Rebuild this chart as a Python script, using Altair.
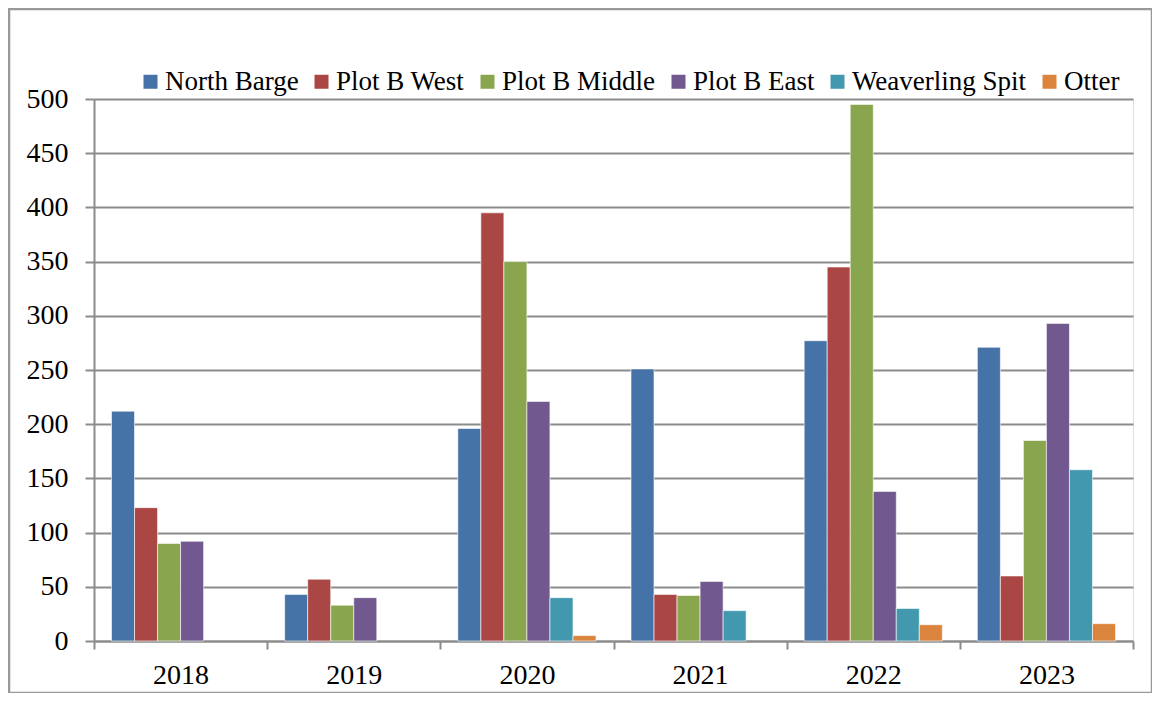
import altair as alt
import pandas as pd

years = ["2018", "2019", "2020", "2021", "2022", "2023"]
series = ["North Barge", "Plot B West", "Plot B Middle", "Plot B East", "Weaverling Spit", "Otter"]
colors = ["#4572A7", "#AA4643", "#89A54E", "#71588F", "#4198AF", "#DB843D"]

north_barge = [212, 43, 196, 251, 277, 271]
plot_b_west = [123, 57, 395, 43, 345, 60]
plot_b_middle = [90, 33, 350, 42, 495, 185]
plot_b_east = [92, 40, 221, 55, 138, 293]
weaverling_spit = [None, None, 40, 28, 30, 158]
otter = [None, None, 5, None, 15, 16]

values = [north_barge, plot_b_west, plot_b_middle, plot_b_east, weaverling_spit, otter]
rows = []
for s, vals in zip(series, values):
    for y, v in zip(years, vals):
        if v is not None:
            rows.append({"Year": y, "Site": s, "Count": v})
df = pd.DataFrame(rows)

W, H = 1039, 542
FONT = "Liberation Serif"
GRAY = "#8c8c8c"

bars = alt.Chart(df).mark_bar(stroke="white", strokeWidth=1, strokeOpacity=0.6).encode(
    x=alt.X("Year:N", sort=years, title=None,
            scale=alt.Scale(paddingInner=0, paddingOuter=0),
            axis=alt.Axis(labelAngle=0, labelFont=FONT, labelFontSize=28, labelColor="black",
                          tickBand="extent", tickSize=8, tickColor=GRAY, tickWidth=2,
                          domainColor=GRAY, domainWidth=2, labelPadding=12, grid=False)),
    xOffset=alt.XOffset("Site:N", sort=series,
                        scale=alt.Scale(domain=series, paddingInner=0, paddingOuter=0.76)),
    y=alt.Y("Count:Q", title=None,
            scale=alt.Scale(domain=[0, 500], nice=False),
            axis=alt.Axis(values=list(range(0, 501, 50)), labelFont=FONT, labelFontSize=28,
                          labelColor="black", tickSize=9, tickColor=GRAY, tickWidth=2,
                          domainColor=GRAY, domainWidth=2, labelPadding=17,
                          grid=True, gridColor=GRAY, gridWidth=2)),
    color=alt.Color("Site:N", sort=series,
                    scale=alt.Scale(domain=series, range=colors),
                    legend=alt.Legend(title=None, orient="none", legendX=43, legendY=-31,
                                      direction="horizontal", symbolType="square",
                                      symbolSize=196, symbolStrokeWidth=0,
                                      labelFont=FONT, labelFontSize=27, labelColor="black",
                                      labelOffset=1, columnPadding=9, labelLimit=400)),
)

border = alt.Chart(pd.DataFrame({"a": [0]})).mark_rect(
    fill=None, stroke="#999999", strokeWidth=2.5
).encode(x=alt.value(-85), x2=alt.value(1058), y=alt.value(-90), y2=alt.value(594))

chart = alt.layer(border, bars).properties(
    width=W, height=H,
    autosize=alt.AutoSizeParams(type="none"),
    padding={"left": 86, "top": 91, "right": 19, "bottom": 52},
).configure_view(strokeWidth=0).configure(background="white")

chart.save("out.html", embed_options={"renderer": "svg", "actions": False})
